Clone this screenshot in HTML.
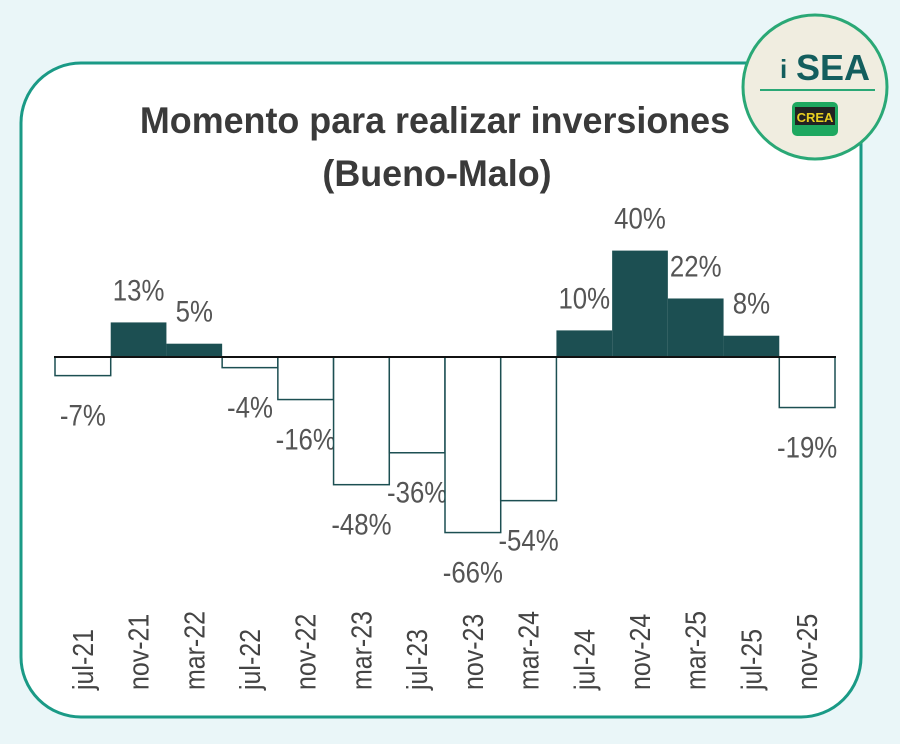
<!DOCTYPE html>
<html><head><meta charset="utf-8"><style>
body{margin:0;width:900px;height:739px;background:#eaf6f8;overflow:hidden;font-family:"Liberation Sans",sans-serif}
</style></head><body>
<svg width="900" height="739" xmlns="http://www.w3.org/2000/svg">
<rect x="21" y="63" width="840" height="654" rx="60" fill="#fff" stroke="#1a9a86" stroke-width="3"/>
<g font-weight="bold" font-size="37" fill="#3a3a3a" text-anchor="middle">
<text x="435" y="133" transform="translate(435 0) scale(0.97 1) translate(-435 0)">Momento para realizar inversiones</text>
<text x="437" y="186" transform="translate(437 0) scale(0.97 1) translate(-437 0)">(Bueno-Malo)</text>
</g>
<g id="bars"></g>
<line x1="54" y1="357" x2="836" y2="357" stroke="#111" stroke-width="2"/>
<circle cx="815" cy="87" r="72" fill="#f0ede0" stroke="#2aa876" stroke-width="3"/>
<text x="833" y="80" font-size="36" font-weight="bold" fill="#135e5e" text-anchor="middle">SEA</text>
<text x="780" y="78" font-size="26" font-weight="bold" fill="#135e5e">i</text>
<line x1="760" y1="90" x2="875" y2="90" stroke="#2aa876" stroke-width="2"/>
<rect x="792" y="102" width="46" height="34" rx="5" fill="#1ea860"/>
<rect x="795" y="107" width="40" height="18" fill="#222"/>
<text x="815" y="122" font-size="13" font-weight="bold" fill="#e8d020" text-anchor="middle">CREA</text>
</svg>
<script>
const v=[-7,13,5,-4,-16,-48,-36,-66,-54,10,40,22,8,-19];
const m=["jul-21","nov-21","mar-22","jul-22","nov-22","mar-23","jul-23","nov-23","mar-24","jul-24","nov-24","mar-25","jul-25","nov-25"];
const g=document.getElementById('bars');let s='';
const w=780/14,b=357,k=2.66;
v.forEach((d,i)=>{const x=55+i*w,h=Math.abs(d)*k,cx=x+w/2;
const T=(y)=>`<text x="${cx}" y="${y}" font-size="30" fill="#555" text-anchor="middle" transform="translate(${cx} 0) scale(0.86 1) translate(${-cx} 0)">${d}%</text>`;
if(d>0){s+=`<rect x="${x}" y="${b-h}" width="${w}" height="${h}" fill="#1c4f52"/>`;s+=T(b-h-22);}
else{s+=`<rect x="${x}" y="${b}" width="${w}" height="${h}" fill="#fff" stroke="#1c4f52" stroke-width="1.5"/>`;s+=T(b+h+50);}
s+=`<text transform="translate(${cx+10} 690) rotate(-90) scale(0.86 1)" font-size="29" fill="#444">${m[i]}</text>`;
});
g.innerHTML=s;
</script>
</body></html>
